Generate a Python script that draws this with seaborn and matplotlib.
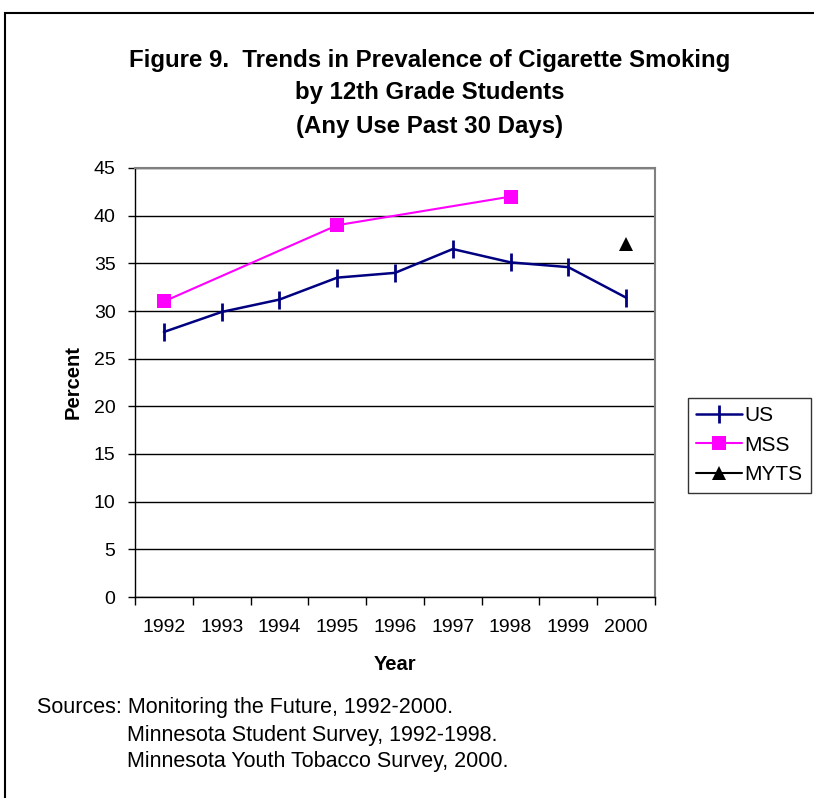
import matplotlib
matplotlib.use("Agg")
import matplotlib.pyplot as plt
from matplotlib.patches import Rectangle
from matplotlib.ticker import FixedLocator
import seaborn as sns
import pandas as pd
import numpy as np

years = [1992, 1993, 1994, 1995, 1996, 1997, 1998, 1999, 2000]
us = [27.8, 29.9, 31.2, 33.5, 34.0, 36.5, 35.1, 34.6, 31.4]
mss_years = [1992, 1995, 1998]
mss = [31.0, 39.0, 42.0]
myts_years = [2000]
myts = [37.0]

sns.set_theme(style="white")
plt.rcParams["font.family"] = ["Liberation Sans", "DejaVu Sans"]
plt.rcParams.update({"text.color": "black", "axes.labelcolor": "black",
                     "xtick.color": "black", "ytick.color": "black"})

fig = plt.figure(figsize=(8.14, 7.98), dpi=100)
ax = fig.add_axes([135 / 814, 1 - 597 / 798, 520 / 814, 429 / 798])

df_us = pd.DataFrame({"Year": years, "Percent": us})
df_mss = pd.DataFrame({"Year": mss_years, "Percent": mss})
df_myts = pd.DataFrame({"Year": myts_years, "Percent": myts})

sns.lineplot(data=df_us, x="Year", y="Percent", ax=ax, color="#000080",
             linewidth=1.8, marker="|", markersize=13, markeredgewidth=2,
             markeredgecolor="#000080", label="US")
sns.lineplot(data=df_mss, x="Year", y="Percent", ax=ax, color="#FF00FF",
             linewidth=1.5, marker="s", markersize=10, markeredgewidth=0,
             label="MSS")
sns.lineplot(data=df_myts, x="Year", y="Percent", ax=ax, color="black",
             linewidth=1.5, marker="^", markersize=10, markeredgewidth=0,
             label="MYTS")

ax.set_xlim(1991.5, 2000.5)
ax.set_ylim(0, 45)
ax.set_yticks(np.arange(0, 46, 5))
ax.set_xticks(years)
ax.xaxis.set_minor_locator(FixedLocator(np.arange(1991.5, 2001, 1.0)))
ax.tick_params(axis="x", which="major", length=0, labelsize=14, pad=16)
ax.tick_params(axis="x", which="minor", length=6, width=1, direction="out",
               bottom=True, color="black")
ax.tick_params(axis="y", which="major", length=5, width=1, direction="out",
               left=True, labelsize=14, pad=9)
ax.grid(axis="y", color="black", linewidth=1)
ax.set_axisbelow(True)
for side in ["top", "right"]:
    ax.spines[side].set_color("#808080")
    ax.spines[side].set_linewidth(1.5)
for side in ["left", "bottom"]:
    ax.spines[side].set_color("black")
    ax.spines[side].set_linewidth(1)

ax.set_xlabel("Year", fontsize=14.5, fontweight="bold")
ax.set_ylabel("Percent", fontsize=14.5, fontweight="bold")
ax.xaxis.set_label_coords(395 / 814, 1 - 664 / 798, transform=fig.transFigure)
ax.yaxis.set_label_coords(73 / 814, 1 - 382 / 798, transform=fig.transFigure)
ax.xaxis.label.set_va("center")
ax.yaxis.label.set_va("center")

title_kw = dict(ha="center", va="center", fontsize=17.3, fontweight="bold")
fig.text(430 / 814, 1 - 60 / 798,
         "Figure 9.  Trends in Prevalence of Cigarette Smoking", **title_kw)
fig.text(430 / 814, 1 - 93 / 798, "by 12th Grade Students", **title_kw)
fig.text(430 / 814, 1 - 126 / 798, "(Any Use Past 30 Days)", **title_kw)

src_kw = dict(ha="left", va="center", fontsize=15.5)
fig.text(37 / 814, 1 - 707 / 798, "Sources: Monitoring the Future, 1992-2000.", **src_kw)
fig.text(127 / 814, 1 - 735 / 798, "Minnesota Student Survey, 1992-1998.", **src_kw)
fig.text(127 / 814, 1 - 761 / 798, "Minnesota Youth Tobacco Survey, 2000.", **src_kw)

leg = ax.legend(loc="upper left", bbox_to_anchor=(688 / 814, 1 - 398 / 798),
                bbox_transform=fig.transFigure, frameon=True, fancybox=False,
                fontsize=15, handlelength=2.2, handletextpad=0.1,
                labelspacing=0.5, borderpad=0.4, borderaxespad=0)
leg.get_frame().set_edgecolor("black")
leg.get_frame().set_linewidth(1)

fig.patches.append(Rectangle((5 / 814, -0.05), 1.2, 1 - 13 / 798 + 0.05,
                             transform=fig.transFigure, fill=False,
                             edgecolor="black", linewidth=1.5))

fig.savefig("out.png", dpi=100)
